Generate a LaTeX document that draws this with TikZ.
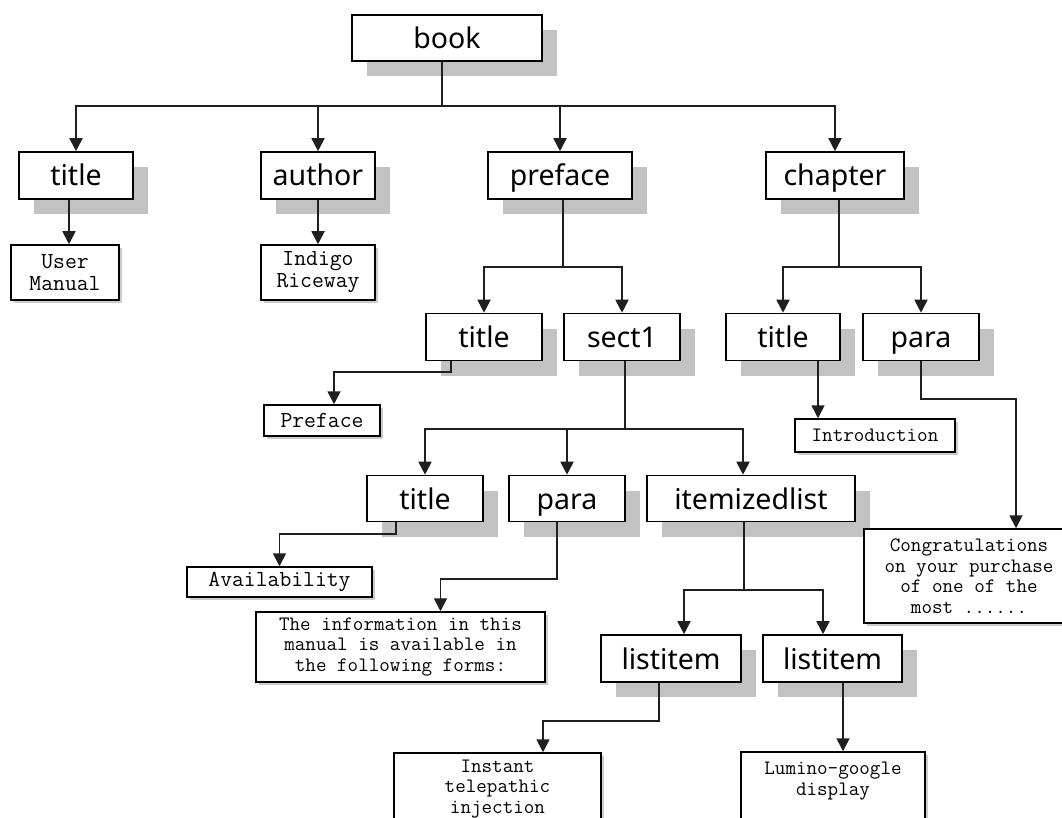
\documentclass[tikz,border=0pt]{standalone}
\usepackage{fontspec}
\newfontfamily\tagfont{Noto Sans}
\usetikzlibrary{arrows.meta,shadows}
\definecolor{shade}{gray}{0.76}
\definecolor{wire}{gray}{0.12}
\tikzset{
  elem/.style={draw=black, line width=1.6pt, fill=white, inner sep=0pt,
    text height=21pt, text depth=0pt,
    font=\tagfont\fontsize{28.5}{30}\selectfont,
    general shadow={fill=shade, shadow xshift=15pt, shadow yshift=-15pt}},
  leaf/.style={draw=black, line width=1.5pt, fill=white, inner sep=0pt, align=center,
    general shadow={fill=black!20, shadow xshift=3pt, shadow yshift=-3pt}},
  bigtt/.style={font=\ttfamily\fontsize{23}{22}\selectfont},
  smalltt/.style={font=\ttfamily\fontsize{20.5}{20.5}\selectfont},
  ln/.style={line width=1.8pt, draw=wire},
  arr/.style={ln, -{Triangle[width=13pt,length=13pt]}}
}
\begin{document}
\begin{tikzpicture}[x=1pt,y=-1pt]
\useasboundingbox (0,0) rectangle (1062,818);
\clip (0,0) rectangle (1062,818);
\fill[white] (0,0) rectangle (1062,818);

% element boxes
\node[elem, minimum width=190pt, minimum height=46pt] (book) at (447,38) {book};
\node[elem, minimum width=114pt, minimum height=47pt] (title1) at (76,175.5) {title};
\node[elem, minimum width=114pt, minimum height=47pt] (author) at (318,175.5) {author};
\node[elem, minimum width=144pt, minimum height=47pt] (preface) at (560,175.5) {preface};
\node[elem, minimum width=138pt, minimum height=47pt] (chapter) at (835,175.5) {chapter};
\node[elem, minimum width=116pt, minimum height=47pt] (title2) at (484,337) {title};
\node[elem, minimum width=116pt, minimum height=47pt] (sect1) at (622,337) {sect1};
\node[elem, minimum width=114pt, minimum height=47pt] (ctitle) at (783,337) {title};
\node[elem, minimum width=116pt, minimum height=47pt] (cpara) at (921,337) {para};
\node[elem, minimum width=116pt, minimum height=46pt] (title3) at (425,498.5) {title};
\node[elem, minimum width=116pt, minimum height=46pt] (para3) at (567,498.5) {para};
\node[elem, minimum width=208pt, minimum height=46pt] (itemz) at (751,498.5) {itemizedlist};
\node[elem, minimum width=140pt, minimum height=47pt] (li1) at (671,658.5) {listitem};
\node[elem, minimum width=139pt, minimum height=47pt] (li2) at (832.5,658.5) {listitem};

% text content boxes
\node[leaf, bigtt, minimum width=108pt, minimum height=55pt] (um) at (65,272.5) {User\\Manual};
\node[leaf, bigtt, minimum width=114pt, minimum height=55pt] (ir) at (318,272.5) {Indigo\\Riceway};
\node[leaf, bigtt, minimum width=116pt, minimum height=31pt] (pleaf) at (322,420.5) {Preface};
\node[leaf, smalltt, minimum width=160pt, minimum height=33pt] (intro) at (875,435.5) {Introduction};
\node[leaf, bigtt, minimum width=185pt, minimum height=30pt] (avail) at (279.5,582) {Availability};
\node[leaf, smalltt, minimum width=289pt, minimum height=70pt] (info) at (400.5,647)
  {The information in this\\manual is available in\\the following forms:};
\node[leaf, smalltt, minimum width=210pt, minimum height=94pt] (congr) at (969,576)
  {Congratulations\\on your purchase\\of one of the\\most ......};
\node[leaf, minimum width=207pt, minimum height=80pt] (instbox) at (497.5,793) {};
\node[smalltt, align=center, inner sep=0pt] (insttext) at (497.5,789) {Instant\\telepathic\\injection};
\node[leaf, minimum width=184pt, minimum height=80pt] (lumbox) at (833,792) {};
\node[smalltt, align=center, inner sep=0pt] (lumtext) at (833,781) {Lumino-google\\display};

% junctions
\coordinate (j0) at (442,106);
\coordinate (j1) at (563,267);
\coordinate (j2) at (839,267);
\coordinate (j3) at (625,429);
\coordinate (j4) at (744,590);

% book
\draw[ln] (book.south -| j0) -- (j0);
\draw[arr] (j0) -| (title1.north);
\draw[arr] (j0) -| (author.north);
\draw[arr] (j0) -| (preface.north);
\draw[arr] (j0) -| (chapter.north);

% preface
\draw[ln] (preface.south -| j1) -- (j1);
\draw[arr] (j1) -| (title2.north);
\draw[arr] (j1) -| (sect1.north);

% chapter
\draw[ln] (chapter.south -| j2) -- (j2);
\draw[arr] (j2) -| (ctitle.north);
\draw[arr] (j2) -| (cpara.north);

% sect1
\draw[ln] (sect1.south -| j3) -- (j3);
\draw[arr] (j3) -| (title3.north);
\draw[arr] (j3) -| (para3.north);
\draw[arr] (j3) -| ([xshift=-8pt]itemz.north);

% itemizedlist
\draw[ln] (itemz.south -| j4) -- (j4);
\draw[arr] (j4) -| ([xshift=13pt]li1.north);
\draw[arr] (j4) -| ([xshift=-9.5pt]li2.north);

% text content links
\path ([xshift=-7pt]title1.south) coordinate (t1s);
\draw[arr] (t1s) -- (t1s |- um.north);
\draw[arr] (author.south) -- (author.south |- ir.north);
\draw[arr] ([xshift=-33pt]title2.south) -- ++(0,11) -| ([xshift=12pt]pleaf.north);
\path ([xshift=35pt]ctitle.south) coordinate (cts);
\draw[arr] (cts) -- (cts |- intro.north);
\draw[arr] (cpara.south) -- ++(0,38) -| ([xshift=47pt]congr.north);
\draw[arr] ([xshift=-29pt]title3.south) -- ++(0,12) -| (avail.north);
\draw[arr] ([xshift=-10pt]para3.south) -- ++(0,57) -| ([xshift=40pt]info.north);
\draw[arr] ([xshift=-12pt]li1.south) -- ++(0,38) -| ([xshift=45.5pt]instbox.north);
\path ([xshift=10.5pt]li2.south) coordinate (l2s);
\draw[arr] (l2s) -- (l2s |- lumbox.north);
\end{tikzpicture}
\end{document}
